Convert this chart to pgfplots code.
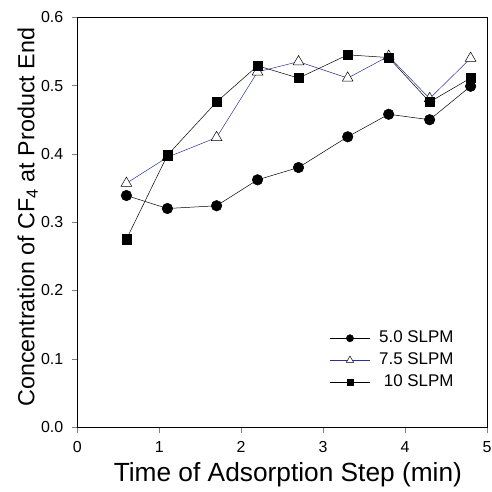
\documentclass[border=0pt]{standalone}
\usepackage{fontspec}
\setmainfont{Liberation Sans}
\usepackage{pgfplots}
\pgfplotsset{compat=1.18}
\definecolor{bline}{RGB}{45,45,160}
\begin{document}
\begin{tikzpicture}
\begin{axis}[
  width=410bp, height=410bp, scale only axis,
  xmin=0, xmax=5, ymin=0, ymax=0.6,
  xtick={0,1,2,3,4,5}, ytick={0,0.1,0.2,0.3,0.4,0.5,0.6},
  /pgf/number format/assume math mode=true,
  tick align=outside, tick pos=left,
  major tick length=5.5bp,
  tick label style={font=\fontsize{16}{18}\selectfont},
  xticklabel style={/tikz/yshift=-5bp},
  yticklabel style={/tikz/xshift=-5bp, /pgf/number format/.cd, fixed, fixed zerofill, precision=1},
  xlabel={Time of Adsorption Step (min)},
  ylabel={Concentration of CF\textsubscript{4} at Product End},
  xlabel style={font=\fontsize{26.4}{30}\selectfont, at={(axis description cs:0.514,-0.134)}, anchor=base},
  ylabel style={font=\fontsize{23.4}{27}\selectfont, at={(axis description cs:-0.1049,0.512)}, anchor=base},
  legend style={draw=none, fill=none, inner sep=0pt, at={(axis cs:4.594,0.0978)}, anchor=east,
     font=\fontsize{17}{19}\selectfont, row sep=6bp, column sep=0pt,
     nodes={inner sep=0pt, text height=12.5bp, text depth=3.5bp}},
  legend cell align=right,
  legend image code/.code={\draw[mark repeat=2, mark phase=2, #1, every mark/.append style={scale=0.68}]
     plot coordinates {(-49bp,0bp) (-29bp,0bp) (-9bp,0bp)}; \path (0bp,0bp);},
  axis line style={black, line width=0.6pt},
]
\addplot[black, line width=0.5pt, mark=*, mark size=5.3bp, mark options={fill=black}]
 coordinates {(0.6,0.339) (1.1,0.320) (1.7,0.324) (2.2,0.362) (2.7,0.380) (3.3,0.425) (3.8,0.458) (4.3,0.450) (4.8,0.499)};
\addlegendentry{5.0 SLPM}
\addplot[bline, line width=0.5pt, mark=triangle*, mark size=6.2bp, mark options={fill=white, draw=black}]
 coordinates {(0.6,0.357) (1.1,0.395) (1.7,0.424) (2.2,0.520) (2.7,0.535) (3.3,0.511) (3.8,0.543) (4.3,0.481) (4.8,0.540)};
\addlegendentry{7.5 SLPM}
\addplot[black, line width=0.5pt, mark=square*, mark size=4.6bp, mark options={fill=black}]
 coordinates {(0.6,0.275) (1.1,0.398) (1.7,0.476) (2.2,0.529) (2.7,0.511) (3.3,0.545) (3.8,0.541) (4.3,0.476) (4.8,0.511)};
\addlegendentry{10 SLPM}
\end{axis}
\pgfresetboundingbox
\path ([shift={(-77.3bp,-65bp)}]current axis.south west) rectangle ([shift={(5bp,17.3bp)}]current axis.north east);
\end{tikzpicture}
\end{document}
